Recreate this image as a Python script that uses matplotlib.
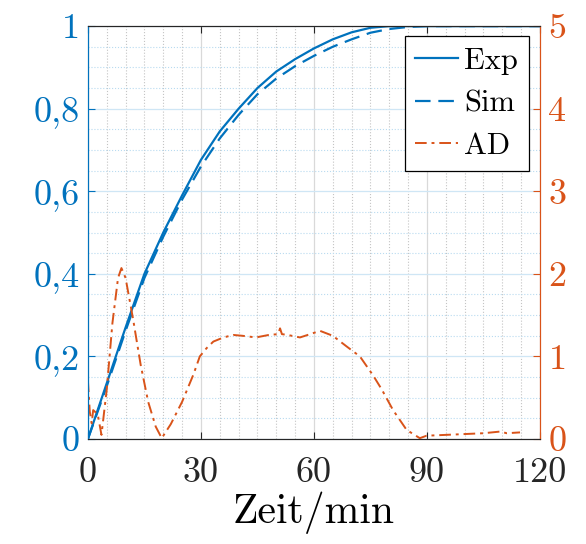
import numpy as np
import matplotlib
import matplotlib.pyplot as plt
from matplotlib.ticker import FixedLocator, FixedFormatter, MultipleLocator

matplotlib.use("Agg")

plt.rcParams['font.family'] = 'serif'
plt.rcParams['font.serif'] = ['cmr10', 'DejaVu Serif']
plt.rcParams['mathtext.fontset'] = 'cm'
plt.rcParams['axes.unicode_minus'] = False

# 数据
t_exp = [0, 5, 10, 15, 20, 25, 30, 35, 40, 45, 50, 55, 60, 65, 70, 75, 80, 90, 100, 110, 120]
v_exp = [0, 0.135, 0.27, 0.40, 0.50, 0.59, 0.676, 0.745, 0.80, 0.85, 0.89, 0.92, 0.946,
         0.968, 0.985, 0.996, 1.0, 1.0, 1.0, 1.0, 1.0]
t_sim = [0, 5, 10, 15, 20, 25, 30, 35, 40, 45, 50, 55, 60, 65, 70, 75, 80, 85, 90, 100, 110, 120]
v_sim = [0, 0.128, 0.262, 0.39, 0.49, 0.58, 0.66, 0.728, 0.785, 0.835, 0.873, 0.903, 0.928,
         0.95, 0.968, 0.984, 0.993, 0.998, 1.0, 1.0, 1.0, 1.0]
t_ad = [0, 0.5, 1.0, 1.4, 2.6, 3.6, 5.0, 6.5, 8.0, 8.9, 10.0, 12.0, 14.0, 16.0, 18.0, 19.6,
        22.0, 25.0, 28.0, 29.7, 31.5, 33.3, 36.0, 38.6, 41.0, 44.6, 48.0, 50.5, 51.0, 51.5,
        53.0, 56.3, 59.0, 61.6, 65.0, 68.7, 72.2, 75.7, 78.0, 81.0, 84.6, 88.1, 89.9, 95.0,
        100.0, 105.0, 109.4, 111.2, 114.7]
v_ad = [0.71, 0.33, 0.19, 0.35, 0.3, 0.05, 0.6, 1.4, 1.95, 2.07, 1.95, 1.45, 0.9, 0.45, 0.15, 0.01,
        0.18, 0.45, 0.78, 1.0, 1.1, 1.18, 1.23, 1.26, 1.25, 1.23, 1.26, 1.27, 1.34, 1.27,
        1.26, 1.23, 1.27, 1.31, 1.25, 1.12, 1.0, 0.77, 0.6, 0.35, 0.11, 0.01, 0.04, 0.05,
        0.06, 0.07, 0.09, 0.07, 0.08]

x_ticks = [0, 30, 60, 90, 120]
y_left_ticks = [0, 0.2, 0.4, 0.6, 0.8, 1.0]
y_left_labels = ['0', '0,2', '0,4', '0,6', '0,8', '1']
y_right_ticks = [0, 1, 2, 3, 4, 5]

blue = '#0072BD'
orange = '#D95319'

fig = plt.figure(figsize=(5.86, 5.44), dpi=100)
ax = fig.add_axes([0.150, 0.193, 0.7715, 0.759])
ax2 = ax.twinx()

# 网格
ax.set_axisbelow(True)
ax.xaxis.set_minor_locator(MultipleLocator(5))
ax.yaxis.set_minor_locator(MultipleLocator(0.05))
ax.grid(True, which='major', axis='x', color='#d9d9d9', linewidth=0.9)
ax.grid(True, which='major', axis='y', color='#cfe6f5', linewidth=0.9)
ax.grid(True, which='minor', axis='x', color='#c4c4c4', linestyle=':', linewidth=0.8)
ax.grid(True, which='minor', axis='y', color='#b9dbf0', linestyle=':', linewidth=0.8)

l1, = ax.plot(t_exp, v_exp, color=blue, linewidth=1.6, label='Exp')
l2, = ax.plot(t_sim, v_sim, color=blue, linewidth=1.6, linestyle=(0, (7, 3.5)), label='Sim')
l3, = ax2.plot(t_ad, v_ad, color=orange, linewidth=1.4, linestyle=(0, (6, 2.5, 1.5, 2.5)), label='AD')

ax.set_xlim(0, 120)
ax.set_ylim(0, 1)
ax2.set_ylim(0, 5)

ax.xaxis.set_major_locator(FixedLocator(x_ticks))
ax.yaxis.set_major_locator(FixedLocator(y_left_ticks))
ax.yaxis.set_major_formatter(FixedFormatter(y_left_labels))
ax2.yaxis.set_major_locator(FixedLocator(y_right_ticks))

ax.tick_params(axis='both', which='major', direction='in', length=5, labelsize=26, pad=6)
ax.tick_params(axis='x', which='major', top=True, colors='#262626', pad=13)
ax.tick_params(axis='y', which='major', colors=blue)
ax.tick_params(which='minor', length=0)
ax2.tick_params(axis='y', which='major', direction='in', length=5, labelsize=26, colors=orange, pad=6)
ax2.tick_params(which='minor', length=0)

for a in (ax, ax2):
    a.spines['left'].set_color(blue)
    a.spines['right'].set_color(orange)
    a.spines['top'].set_color('#262626')
    a.spines['bottom'].set_color('#262626')

ax.set_xlabel('Zeit/min', fontsize=30, labelpad=2)

leg = ax2.legend(handles=[l1, l2, l3], loc='upper right', fontsize=22, frameon=True,
                 fancybox=False, edgecolor='black', framealpha=1, handlelength=1.4,
                 handletextpad=0.2, borderpad=0.35, labelspacing=0.5,
                 bbox_to_anchor=(0.975, 0.975), borderaxespad=0.0)
leg.get_frame().set_linewidth(0.9)

fig.savefig('out.png', dpi=100)
